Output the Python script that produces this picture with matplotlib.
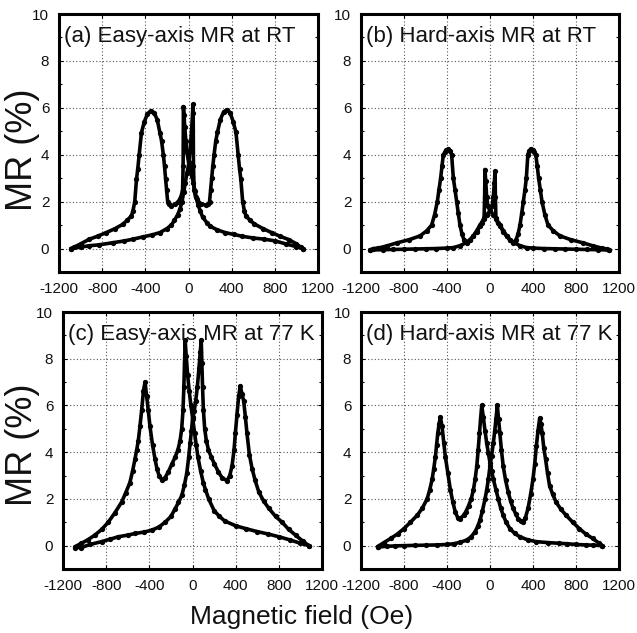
import numpy as np
import matplotlib
matplotlib.use("Agg")
import matplotlib.pyplot as plt
from matplotlib.ticker import MultipleLocator

plt.rcParams['font.family'] = ['Liberation Sans', 'DejaVu Sans']
plt.rcParams['axes.unicode_minus'] = False

# ---- field sweeps: (field in Oe, MR in %) ----
# (a) easy axis, room temperature
a_down = [(1060, 0.0), (1000, 0.08), (900, 0.2), (800, 0.33), (700, 0.4), (600, 0.45),
          (500, 0.52), (420, 0.6), (340, 0.68), (265, 0.8), (200, 0.95), (170, 1.1),
          (130, 1.35), (109, 1.6), (90, 1.85), (75, 2.1), (60, 2.45), (45, 2.8), (30, 3.1),
          (15, 3.4), (0, 3.7), (-15, 4.1), (-25, 4.6), (-35, 5.2), (-42, 5.7), (-47, 6.05),
          (-50, 3.5), (-55, 2.5), (-70, 2.2), (-95, 2.0), (-125, 1.88), (-160, 1.83),
          (-185, 1.9), (-193, 2.0), (-203, 2.5), (-212, 2.95), (-222, 3.5), (-233, 4.0),
          (-250, 4.6), (-265, 4.94), (-290, 5.5), (-320, 5.8), (-350, 5.87), (-380, 5.75),
          (-410, 5.4), (-436, 4.94), (-457, 4.0), (-470, 3.4), (-482, 2.95), (-498, 2.0),
          (-515, 1.6), (-529, 1.39), (-570, 1.2), (-607, 1.04), (-680, 0.85), (-763, 0.68),
          (-840, 0.53), (-918, 0.4), (-1000, 0.2), (-1060, 0.06), (-1090, 0.0)]
a_up = [(-1090, 0.0), (-1000, 0.06), (-918, 0.12), (-825, 0.16), (-700, 0.25), (-600, 0.32),
        (-514, 0.4), (-420, 0.5), (-340, 0.58), (-265, 0.68), (-200, 0.85), (-160, 1.0),
        (-130, 1.2), (-100, 1.45), (-78, 1.7), (-60, 2.0), (-45, 2.4), (-30, 2.8),
        (-15, 3.2), (0, 3.55), (15, 4.2), (28, 5.0), (38, 5.8), (43, 6.15), (46, 3.5),
        (52, 2.5), (65, 2.2), (90, 2.0), (120, 1.9), (160, 1.85), (185, 1.88), (195, 2.0),
        (205, 2.5), (215, 3.0), (225, 3.5), (237, 4.0), (253, 4.6), (268, 4.95), (295, 5.5),
        (325, 5.82), (355, 5.92), (385, 5.8), (415, 5.4), (440, 4.95), (460, 4.0),
        (473, 3.4), (485, 2.95), (502, 2.0), (518, 1.6), (532, 1.4), (570, 1.2), (610, 1.05),
        (690, 0.85), (770, 0.68), (850, 0.52), (930, 0.38), (1000, 0.2), (1040, 0.06),
        (1060, 0.0)]

# (b) hard axis, room temperature
b_down = [(1110, -0.06), (1000, -0.05), (900, -0.04), (800, -0.03), (700, -0.02),
          (600, -0.01), (500, 0.0), (400, 0.02), (341, 0.04), (280, 0.12), (217, 0.26),
          (185, 0.38), (155, 0.54), (125, 0.75), (93, 1.0), (60, 1.25), (30, 1.45), (0, 1.6),
          (-20, 1.8), (-31, 2.2), (-40, 2.9), (-47, 3.37), (-50, 2.2), (-55, 1.3), (-70, 1.1),
          (-93, 0.95), (-125, 0.72), (-155, 0.52), (-190, 0.35), (-217, 0.25), (-240, 0.35),
          (-260, 0.6), (-279, 1.0), (-295, 1.5), (-310, 2.0), (-325, 2.5), (-341, 3.0),
          (-357, 4.0), (-370, 4.18), (-388, 4.23), (-405, 4.2), (-420, 4.1), (-434, 4.0),
          (-447, 3.5), (-459, 3.0), (-475, 2.5), (-490, 2.0), (-515, 1.45), (-543, 1.0),
          (-590, 0.75), (-651, 0.54), (-750, 0.38), (-868, 0.24), (-961, 0.11),
          (-1040, 0.02), (-1085, 0.0), (-1116, -0.06)]
b_up = [(-1116, -0.06), (-1000, -0.05), (-900, -0.04), (-800, -0.03), (-700, -0.02),
        (-600, -0.01), (-500, 0.0), (-400, 0.02), (-341, 0.04), (-280, 0.12), (-217, 0.26),
        (-185, 0.38), (-155, 0.54), (-125, 0.75), (-93, 1.0), (-60, 1.25), (-30, 1.45),
        (0, 1.6), (20, 1.8), (31, 2.2), (40, 2.8), (47, 3.3), (50, 2.2), (55, 1.3), (70, 1.1),
        (93, 0.95), (125, 0.72), (155, 0.52), (190, 0.35), (217, 0.25), (240, 0.35),
        (260, 0.6), (279, 1.0), (295, 1.5), (310, 2.0), (325, 2.5), (338, 3.0), (352, 4.0),
        (365, 4.18), (380, 4.25), (398, 4.2), (412, 4.1), (426, 4.0), (440, 3.5), (452, 3.0),
        (468, 2.5), (484, 2.0), (510, 1.45), (540, 1.0), (590, 0.75), (651, 0.54),
        (750, 0.38), (868, 0.24), (961, 0.11), (1040, 0.02), (1085, -0.02), (1110, -0.06)]

# (c) easy axis, 77 K
c_down = [(1080, 0.0), (1000, 0.1), (900, 0.25), (800, 0.38), (700, 0.5), (600, 0.6),
          (500, 0.72), (400, 0.85), (300, 1.05), (250, 1.25), (200, 1.5), (150, 2.0),
          (120, 2.4), (100, 2.7), (75, 3.2), (50, 3.8), (35, 4.3), (20, 4.8), (0, 5.5),
          (-15, 6.0), (-30, 6.6), (-45, 7.3), (-58, 8.1), (-68, 8.8), (-74, 7.8), (-80, 6.8),
          (-88, 5.8), (-100, 5.0), (-115, 4.5), (-135, 4.1), (-160, 3.8), (-190, 3.5),
          (-225, 3.15), (-255, 2.9), (-285, 2.82), (-310, 3.0), (-330, 3.3), (-347, 3.7),
          (-370, 4.3), (-394, 5.1), (-410, 5.8), (-425, 6.4), (-440, 7.0), (-455, 6.6),
          (-471, 5.8), (-487, 5.1), (-502, 4.5), (-517, 4.1), (-533, 3.7), (-555, 3.2),
          (-580, 2.7), (-620, 2.25), (-657, 1.86), (-720, 1.4), (-781, 1.0), (-840, 0.7),
          (-905, 0.45), (-970, 0.25), (-1029, 0.1), (-1091, -0.05)]
c_up = [(-1091, -0.08), (-1029, -0.08), (-950, 0.05), (-843, 0.17), (-760, 0.28),
        (-688, 0.38), (-600, 0.45), (-533, 0.52), (-450, 0.58), (-378, 0.66), (-310, 0.8),
        (-254, 1.0), (-200, 1.25), (-161, 1.58), (-130, 1.85), (-99, 2.15), (-75, 2.6),
        (-53, 3.1), (-35, 3.8), (-22, 4.4), (-10, 4.9), (0, 5.4), (15, 5.75), (30, 6.2),
        (45, 6.8), (60, 7.6), (72, 8.3), (81, 8.8), (87, 7.8), (93, 6.8), (101, 5.8),
        (113, 5.0), (128, 4.5), (148, 4.1), (173, 3.8), (203, 3.5), (240, 3.15), (275, 2.9),
        (320, 2.78), (345, 3.0), (366, 3.4), (385, 4.1), (397, 4.8), (412, 5.6), (428, 6.4),
        (443, 6.83), (458, 6.5), (474, 6.2), (490, 5.5), (505, 4.8), (527, 3.9), (552, 3.3),
        (580, 2.8), (614, 2.3), (660, 1.9), (707, 1.6), (770, 1.25), (831, 1.0), (890, 0.7),
        (955, 0.45), (1020, 0.2), (1079, 0.0)]

# (d) hard axis, 77 K
d_down = [(1046, 0.0), (960, 0.02), (892, 0.03), (800, 0.05), (720, 0.08), (646, 0.1),
          (540, 0.13), (431, 0.17), (350, 0.25), (277, 0.38), (230, 0.52), (185, 0.73),
          (150, 1.0), (123, 1.3), (100, 1.6), (77, 2.0), (55, 2.4), (31, 2.85), (15, 3.2),
          (0, 3.55), (-15, 3.95), (-31, 4.4), (-46, 4.9), (-62, 5.5), (-77, 6.0), (-88, 5.4),
          (-98, 4.8), (-110, 4.1), (-123, 3.4), (-138, 2.85), (-154, 2.4), (-175, 2.0),
          (-200, 1.7), (-225, 1.45), (-246, 1.3), (-277, 1.15), (-300, 1.2), (-323, 1.44),
          (-345, 1.85), (-369, 2.4), (-392, 3.1), (-415, 3.8), (-430, 4.4), (-446, 5.1),
          (-462, 5.5), (-474, 5.2), (-486, 4.8), (-497, 4.3), (-508, 3.8), (-523, 3.3),
          (-538, 2.85), (-560, 2.4), (-585, 2.0), (-630, 1.6), (-677, 1.3), (-740, 1.0),
          (-800, 0.73), (-860, 0.5), (-923, 0.31), (-990, 0.12), (-1046, -0.04)]
d_up = [(-1046, -0.06), (-960, -0.03), (-880, -0.01), (-800, 0.0), (-700, 0.01),
        (-600, 0.02), (-492, 0.03), (-400, 0.05), (-338, 0.08), (-280, 0.14), (-215, 0.24),
        (-175, 0.38), (-138, 0.6), (-115, 0.82), (-92, 1.1), (-70, 1.5), (-46, 2.0),
        (-30, 2.4), (-15, 2.85), (0, 3.4), (15, 3.85), (31, 4.4), (44, 4.9), (55, 5.4),
        (68, 6.0), (80, 5.4), (92, 4.8), (106, 4.1), (123, 3.4), (145, 2.8), (169, 2.3),
        (192, 1.9), (215, 1.6), (240, 1.35), (262, 1.15), (285, 1.05), (308, 1.0),
        (330, 1.2), (354, 1.6), (378, 2.2), (400, 2.85), (416, 3.5), (431, 4.25), (446, 4.9),
        (462, 5.45), (474, 5.2), (486, 4.8), (500, 4.2), (517, 3.7), (535, 3.1), (554, 2.57),
        (583, 2.2), (615, 1.86), (660, 1.55), (708, 1.3), (770, 1.0), (831, 0.73),
        (890, 0.5), (954, 0.31), (1010, 0.12), (1046, 0.0)]

panel_titles = ["(a) Easy-axis MR at RT", "(b) Hard-axis MR at RT",
                "(c) Easy-axis MR at 77 K", "(d) Hard-axis MR at 77 K"]
x_ticks = [-1200, -800, -400, 0, 400, 800, 1200]
y_ticks = [0, 2, 4, 6, 8, 10]

W, H = 637, 633
fig = plt.figure(figsize=(W / 100, H / 100), dpi=100)

# axes boxes in pixels: left, right, top, bottom
boxes = [(59, 318, 14, 272), (361, 619, 14, 272),
         (63, 322, 312, 569), (361, 619, 312, 569)]
sweeps = [(a_down, a_up), (b_down, b_up), (c_down, c_up), (d_down, d_up)]

for (l, r, t, b), title, pair in zip(boxes, panel_titles, sweeps):
    ax = fig.add_axes([l / W, (H - b) / H, (r - l) / W, (b - t) / H])
    for branch in pair:
        h, mr = np.array(branch).T
        ax.plot(h, mr, color='black', lw=2.6, marker='o', ms=3.8,
                markeredgewidth=0, solid_joinstyle='round', solid_capstyle='round')
    ax.set_xlim(-1200, 1200)
    ax.set_ylim(-1, 10)
    ax.set_xticks(x_ticks)
    ax.set_yticks(y_ticks)
    ax.yaxis.set_minor_locator(MultipleLocator(1))
    ax.grid(True, which='major', linestyle=(0, (1, 2)), color='#555555', lw=0.8)
    ax.tick_params(which='both', direction='in', top=True, right=True,
                   labelsize=11, pad=7, color='black', labelcolor='#111111')
    ax.tick_params(which='major', length=3, width=0.8)
    ax.tick_params(which='minor', length=2, width=0.8)
    for s in ax.spines.values():
        s.set_linewidth(2.2)
    ax.text(0.018, 0.955, title, transform=ax.transAxes, ha='left', va='top',
            fontsize=16, color='#111111')

fig.text(22 / W, 1 - 150 / H, "MR (%)", rotation=90, ha='center', va='center',
         fontsize=26, color='#111111')
fig.text(22 / W, 1 - 445 / H, "MR (%)", rotation=90, ha='center', va='center',
         fontsize=26, color='#111111')
fig.text(302 / W, 1 - 617 / H, "Magnetic field (Oe)", ha='center', va='center',
         fontsize=19, color='#111111')

fig.savefig("out.png", dpi=100)
